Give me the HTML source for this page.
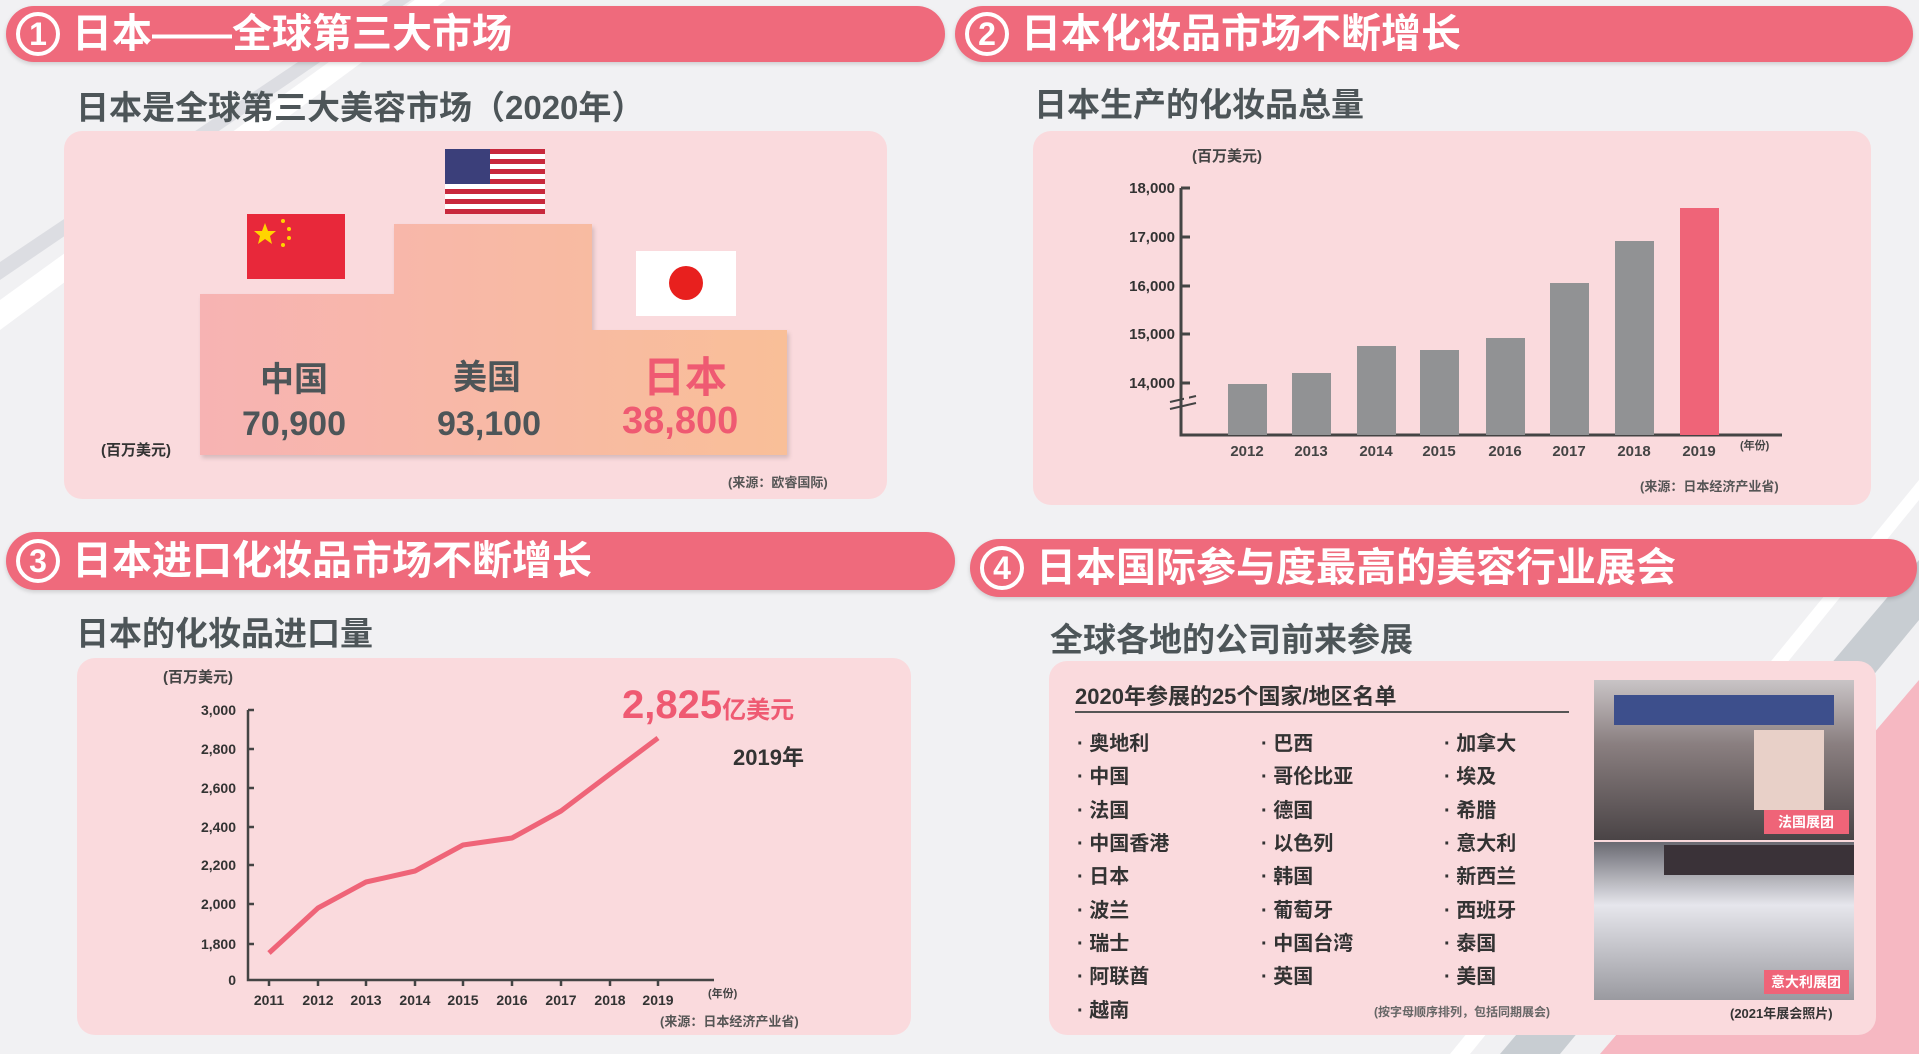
<!DOCTYPE html>
<html><head><meta charset="utf-8">
<style>
*{margin:0;padding:0;box-sizing:border-box}
body{width:1919px;height:1054px;overflow:hidden;background:#f1f1f3;position:relative;font-family:"Liberation Sans","Noto Sans CJK SC",sans-serif;font-weight:bold}
.a{position:absolute;white-space:nowrap}
.hdr{position:absolute;background:#ef6a7c;border-radius:30px;color:#fff;font-size:40px;line-height:1;display:flex;align-items:center;box-shadow:0 2px 4px rgba(0,0,0,.15)}
.num{width:44px;height:44px;border-radius:50%;border:4px solid #fff;display:flex;align-items:center;justify-content:center;font-size:32px;margin:0 12px 0 10px}
.sub{position:absolute;color:#4d5558;font-size:33px;white-space:nowrap}
.box{position:absolute;background:#fadadd;border-radius:18px}
.g{color:#4d5558}
.item{position:absolute;font-size:20px;color:#333;white-space:nowrap}
</style></head><body>
<svg class="a" style="left:0;top:0" width="1919" height="1054">
<polygon points="0,330 0,300 470,-40 500,-40" fill="#fff"/>
<polygon points="0,280 0,262 450,-40 470,-40" fill="#dcdde2"/>
<polygon points="1500,1054 1919,560 1919,620 1560,1054" fill="#c8cdd2"/>
<polygon points="1600,1054 1919,680 1919,1054" fill="#f6b8c2"/>
<polygon points="1450,1054 1919,480 1919,500 1470,1054" fill="#fff"/>
</svg>

<div class="hdr" style="left:6px;top:6px;width:939px;height:56px"><div class="num">1</div>日本——全球第三大市场</div>
<div class="hdr" style="left:955px;top:6px;width:958px;height:56px"><div class="num">2</div>日本化妆品市场不断增长</div>
<div class="hdr" style="left:6px;top:532px;width:949px;height:58px"><div class="num">3</div>日本进口化妆品市场不断增长</div>
<div class="hdr" style="left:970px;top:539px;width:947px;height:58px"><div class="num">4</div>日本国际参与度最高的美容行业展会</div>

<div class="sub" style="left:76px;top:81px">日本是全球第三大美容市场（2020年）</div>
<div class="sub" style="left:1034px;top:78px">日本生产的化妆品总量</div>
<div class="sub" style="left:76px;top:607px">日本的化妆品进口量</div>
<div class="sub" style="left:1050px;top:613px">全球各地的公司前来参展</div>

<!-- box1 -->
<div class="box" style="left:64px;top:131px;width:823px;height:368px"></div>
<svg class="a" style="left:0;top:0" width="960" height="520">
<defs><linearGradient id="pg" x1="0" x2="1"><stop offset="0" stop-color="#f7b3b3"/><stop offset="1" stop-color="#f9bf98"/></linearGradient></defs>
<polygon points="200,294 394,294 394,224 592,224 592,330 787,330 787,455 200,455" fill="url(#pg)" filter="drop-shadow(2px 3px 2px rgba(0,0,0,.15))"/>
<rect x="247" y="214" width="98" height="65" fill="#e8283a"/>
<polygon points="265,223 268,231 276,231 270,236 272,244 265,239 258,244 260,236 254,231 262,231" fill="#ffd400"/>
<circle cx="283" cy="221" r="2" fill="#ffd400"/><circle cx="289" cy="229" r="2" fill="#ffd400"/><circle cx="289" cy="238" r="2" fill="#ffd400"/><circle cx="283" cy="245" r="2" fill="#ffd400"/>
<g>
<rect x="445" y="149" width="100" height="65" fill="#fff"/>
<rect x="445" y="149" width="100" height="5" fill="#c8283c"/><rect x="445" y="159" width="100" height="5" fill="#c8283c"/><rect x="445" y="169" width="100" height="5" fill="#c8283c"/><rect x="445" y="179" width="100" height="5" fill="#c8283c"/><rect x="445" y="189" width="100" height="5" fill="#c8283c"/><rect x="445" y="199" width="100" height="5" fill="#c8283c"/><rect x="445" y="209" width="100" height="5" fill="#c8283c"/>
<rect x="445" y="149" width="45" height="35" fill="#3b3f7a"/>
</g>
<rect x="636" y="251" width="100" height="65" fill="#fff"/>
<circle cx="686" cy="283" r="17" fill="#e8201e"/>
</svg>
<div class="a g" style="left:260px;top:352px;font-size:34px">中国</div>
<div class="a g" style="left:242px;top:405px;font-size:34px">70,900</div>
<div class="a g" style="left:453px;top:350px;font-size:34px">美国</div>
<div class="a g" style="left:437px;top:405px;font-size:34px">93,100</div>
<div class="a" style="left:643px;top:344px;font-size:42px;color:#ef5a72">日本</div>
<div class="a" style="left:622px;top:400px;font-size:38px;color:#ef5a72">38,800</div>
<div class="a" style="left:101px;top:439px;font-size:15px;color:#333">(百万美元)</div>
<div class="a" style="left:728px;top:472px;font-size:13px;color:#555">(来源：欧睿国际)</div>

<!-- box2 -->
<div class="box" style="left:1033px;top:131px;width:838px;height:374px"></div>
<svg class="a" style="left:1100px;top:140px" width="760" height="360" font-family="Liberation Sans" font-weight="bold">
<g fill="#333" font-size="15" text-anchor="end">
<text x="75" y="53">18,000</text><text x="75" y="102">17,000</text><text x="75" y="151">16,000</text><text x="75" y="199">15,000</text><text x="75" y="248">14,000</text>
</g>
<g stroke="#444" stroke-width="3" fill="none">
<path d="M81,48 V295 H682"/>
<path d="M81,48 h9 M81,97 h9 M81,146 h9 M81,194 h9 M81,243 h9"/>
</g>
<path d="M70,262 l26,-6 M70,269 l26,-6" stroke="#444" stroke-width="2"/>
<rect x="84" y="255" width="5" height="6" fill="#fadadd"/>
<g fill="#919294">
<rect x="128" y="244" width="39" height="51"/><rect x="192" y="233" width="39" height="62"/><rect x="257" y="206" width="39" height="89"/><rect x="320" y="210" width="39" height="85"/><rect x="386" y="198" width="39" height="97"/><rect x="450" y="143" width="39" height="152"/><rect x="515" y="101" width="39" height="194"/>
</g>
<rect x="580" y="68" width="39" height="227" fill="#ef6478"/>
<g fill="#444" font-size="15" text-anchor="middle">
<text x="147" y="316">2012</text><text x="211" y="316">2013</text><text x="276" y="316">2014</text><text x="339" y="316">2015</text><text x="405" y="316">2016</text><text x="469" y="316">2017</text><text x="534" y="316">2018</text><text x="599" y="316">2019</text>
</g>
<text x="640" y="309" font-size="11" fill="#444">(年份)</text>
<text x="92" y="21" font-size="15" fill="#444" font-family="Liberation Sans,Noto Sans CJK SC">(百万美元)</text>
</svg>
<div class="a" style="left:1640px;top:476px;font-size:13px;color:#555">(来源：日本经济产业省)</div>

<!-- box3 -->
<div class="box" style="left:77px;top:658px;width:834px;height:377px"></div>
<svg class="a" style="left:0;top:640px" width="920" height="410" font-family="Liberation Sans" font-weight="bold">
<g fill="#333" font-size="14" text-anchor="end">
<text x="236" y="75">3,000</text><text x="236" y="114">2,800</text><text x="236" y="153">2,600</text><text x="236" y="192">2,400</text><text x="236" y="230">2,200</text><text x="236" y="269">2,000</text><text x="236" y="309">1,800</text><text x="236" y="345">0</text>
</g>
<g stroke="#444" stroke-width="2.5" fill="none">
<path d="M248,70 V340 H714"/>
<path d="M248,70 h6 M248,109 h6 M248,148 h6 M248,187 h6 M248,225 h6 M248,264 h6 M248,304 h6"/>
<path d="M269,340 v6 M318,340 v6 M366,340 v6 M415,340 v6 M463,340 v6 M512,340 v6 M561,340 v6 M610,340 v6 M658,340 v6"/>
</g>
<polyline points="269,313 318,268 366,242 415,231 463,205 512,198 561,171 610,134 658,98" fill="none" stroke="#ef6478" stroke-width="5" stroke-linejoin="round"/>
<g fill="#333" font-size="14" text-anchor="middle">
<text x="269" y="365">2011</text><text x="318" y="365">2012</text><text x="366" y="365">2013</text><text x="415" y="365">2014</text><text x="463" y="365">2015</text><text x="512" y="365">2016</text><text x="561" y="365">2017</text><text x="610" y="365">2018</text><text x="658" y="365">2019</text>
</g>
<text x="708" y="357" font-size="11" fill="#444" font-family="Liberation Sans,Noto Sans CJK SC">(年份)</text>
<text x="163" y="42" font-size="15" fill="#444" font-family="Liberation Sans,Noto Sans CJK SC">(百万美元)</text>
</svg>
<div class="a" style="left:622px;top:683px;font-size:40px;color:#ef5a72">2,825<span style="font-size:24px">亿美元</span></div>
<div class="a" style="left:733px;top:740px;font-size:22px;color:#333">2019年</div>
<div class="a" style="left:660px;top:1011px;font-size:13px;color:#555">(来源：日本经济产业省)</div>

<!-- box4 -->
<div class="box" style="left:1049px;top:661px;width:827px;height:374px"></div>
<div class="a" style="left:1075px;top:679px;font-size:22px;color:#333">2020年参展的25个国家/地区名单</div>
<div class="a" style="left:1075px;top:711px;width:494px;height:2px;background:#555"></div>
<div class="item" style="left:1077px;top:727px">· 奥地利</div><div class="item" style="left:1077px;top:760px">· 中国</div><div class="item" style="left:1077px;top:794px">· 法国</div><div class="item" style="left:1077px;top:827px">· 中国香港</div><div class="item" style="left:1077px;top:860px">· 日本</div><div class="item" style="left:1077px;top:894px">· 波兰</div><div class="item" style="left:1077px;top:927px">· 瑞士</div><div class="item" style="left:1077px;top:960px">· 阿联酋</div><div class="item" style="left:1077px;top:994px">· 越南</div>
<div class="item" style="left:1261px;top:727px">· 巴西</div><div class="item" style="left:1261px;top:760px">· 哥伦比亚</div><div class="item" style="left:1261px;top:794px">· 德国</div><div class="item" style="left:1261px;top:827px">· 以色列</div><div class="item" style="left:1261px;top:860px">· 韩国</div><div class="item" style="left:1261px;top:894px">· 葡萄牙</div><div class="item" style="left:1261px;top:927px">· 中国台湾</div><div class="item" style="left:1261px;top:960px">· 英国</div>
<div class="item" style="left:1444px;top:727px">· 加拿大</div><div class="item" style="left:1444px;top:760px">· 埃及</div><div class="item" style="left:1444px;top:794px">· 希腊</div><div class="item" style="left:1444px;top:827px">· 意大利</div><div class="item" style="left:1444px;top:860px">· 新西兰</div><div class="item" style="left:1444px;top:894px">· 西班牙</div><div class="item" style="left:1444px;top:927px">· 泰国</div><div class="item" style="left:1444px;top:960px">· 美国</div>
<div class="a" style="left:1374px;top:1003px;font-size:12px;color:#666">(按字母顺序排列，包括同期展会)</div>
<svg class="a" style="left:1594px;top:680px" width="260" height="320">
<defs><linearGradient id="p1" x1="0" y1="0" x2="0" y2="1"><stop offset="0" stop-color="#c9c4c6"/><stop offset=".4" stop-color="#8a7f80"/><stop offset="1" stop-color="#4a4446"/></linearGradient>
<linearGradient id="p2" x1="0" y1="0" x2="0" y2="1"><stop offset="0" stop-color="#6a6a72"/><stop offset=".4" stop-color="#e6e6ec"/><stop offset="1" stop-color="#9a9aa0"/></linearGradient></defs>
<rect width="260" height="160" fill="url(#p1)"/>
<rect x="20" y="15" width="220" height="30" fill="#3d4f8c"/>
<rect x="160" y="50" width="70" height="80" fill="#e8d0c8"/>
<rect x="0" y="162" width="260" height="158" fill="url(#p2)"/>
<rect x="70" y="165" width="190" height="30" fill="#3a3238"/>
<rect x="170" y="130" width="85" height="24" fill="#ef6478"/>
<rect x="170" y="290" width="85" height="24" fill="#ef6478"/>
<text x="212" y="147" fill="#fff" font-size="14" text-anchor="middle" font-family="Liberation Sans,Noto Sans CJK SC" font-weight="bold">法国展团</text>
<text x="212" y="307" fill="#fff" font-size="14" text-anchor="middle" font-family="Liberation Sans,Noto Sans CJK SC" font-weight="bold">意大利展团</text>
</svg>
<div class="a" style="left:1730px;top:1003px;font-size:13px;color:#333">(2021年展会照片)</div>
</body></html>
